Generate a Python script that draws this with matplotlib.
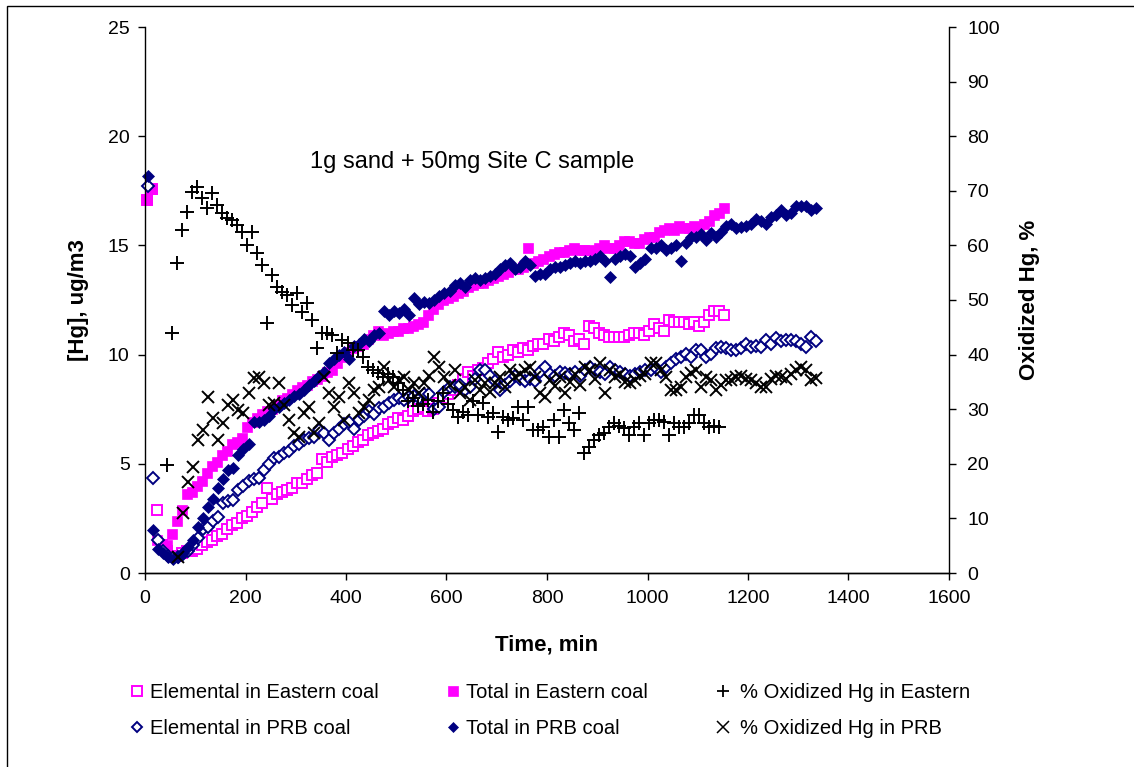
import numpy as np
import matplotlib
matplotlib.use("Agg")
import matplotlib.pyplot as plt
from matplotlib.lines import Line2D
from matplotlib.patches import Rectangle

plt.rcParams['font.family'] = ['Liberation Sans', 'DejaVu Sans']

# ---------------- data ----------------
# Eastern coal, sampled every 10 min starting at 3 min
east_t0, east_dt = 3, 10
total_east = [17.1, 17.6, 1.5, 1.2, 1.3, 1.8, 2.4, 2.9, 3.6, 3.7,
              4.0, 4.2, 4.6, 4.9, 5.1, 5.4, 5.6, 5.9, 6.0, 6.2,
              6.7, 6.9, 7.1, 7.3, 7.4, 7.5, 7.7, 7.9, 8.0, 8.2,
              8.4, 8.5, 8.6, 8.8, 8.9, 9.0, 9.2, 9.3, 9.6, 9.9,
              10.1, 10.3, 10.4, 10.5, 10.7, 10.9, 11.1, 10.9, 11.0, 11.1,
              11.1, 11.2, 11.2, 11.3, 11.4, 11.5, 11.8, 12.1, 12.3, 12.5,
              12.6, 12.7, 12.8, 12.9, 13.1, 13.2, 13.3, 13.3, 13.4, 13.5,
              13.6, 13.7, 13.8, 13.9, 13.9, 14.0, 14.9, 14.2, 14.3, 14.4,
              14.5, 14.6, 14.7, 14.7, 14.8, 14.9, 14.8, 14.8, 14.8, 14.7,
              14.9, 15.0, 14.9, 14.9, 15.0, 15.2, 15.2, 15.1, 15.1, 15.3,
              15.4, 15.4, 15.6, 15.7, 15.8, 15.7, 15.9, 15.8, 15.8, 15.9,
              15.8, 16.0, 16.1, 16.4, 16.5, 16.7]
elem_east = [17.1, 17.6, 2.9, 1.3, 1.0, 0.8, 0.8, 0.9, 1.0, 1.0,
             1.1, 1.3, 1.4, 1.5, 1.7, 1.8, 2.0, 2.2, 2.3, 2.5,
             2.6, 2.8, 3.0, 3.2, 3.9, 3.4, 3.6, 3.7, 3.8, 3.9,
             4.1, 4.1, 4.3, 4.5, 4.6, 5.2, 5.1, 5.3, 5.4, 5.5,
             5.7, 5.8, 6.0, 6.1, 6.3, 6.4, 6.5, 6.6, 6.8, 6.9,
             7.1, 7.0, 7.2, 7.4, 7.5, 7.6, 7.4, 7.5, 7.8, 8.0,
             8.2, 8.4, 8.6, 8.9, 9.2, 9.0, 9.3, 9.4, 9.6, 9.8,
             10.1, 9.9, 10.0, 10.2, 10.1, 10.3, 10.2, 10.4, 10.5, 10.5,
             10.7, 10.6, 10.8, 11.0, 10.9, 10.6, 10.7, 10.5, 11.3, 11.2,
             11.0, 10.9, 10.8, 10.8, 10.8, 10.8, 10.9, 11.0, 11.0, 10.9,
             11.1, 11.4, 11.2, 11.1, 11.6, 11.5, 11.5, 11.5, 11.4, 11.5,
             11.3, 11.5, 11.8, 12.0, 12.0, 11.8]
# % oxidized Hg, Eastern coal, every 10 min from 43 min
oxe_t0 = 43
ox_east = [19.8, 44.0, 56.8, 62.8, 66.1, 69.8, 70.7, 68.7, 66.8, 69.6,
           67.4, 66.0, 65.0, 64.6, 63.7, 62.5, 60.1, 62.5, 58.6, 56.4,
           45.8, 54.6, 52.4, 51.5, 50.9, 49.1, 51.3, 47.8, 49.5, 46.3,
           41.2, 44.0, 44.0, 43.6, 40.3, 42.7, 42.1, 40.8, 40.8, 39.6,
           37.7, 37.2, 36.6, 35.9, 36.5, 35.9, 34.8, 33.5, 31.5, 32.0,
           30.5, 31.0, 31.7, 29.5, 31.5, 33.0, 31.0, 29.9, 28.6, 29.5,
           28.9, 31.5, 29.0, 31.1, 28.6, 29.3, 25.8, 28.6, 28.0, 28.3,
           30.4, 28.0, 30.4, 26.2, 26.2, 26.7, 24.9, 28.0, 24.9, 29.9,
           27.4, 26.2, 29.3, 22.0, 23.1, 24.4, 25.3, 25.6, 26.7, 27.4,
           27.0, 26.5, 25.3, 26.7, 27.4, 25.3, 27.5, 28.0, 28.0, 27.6,
           25.3, 27.4, 26.7, 26.7, 27.4, 28.9, 28.9, 27.4, 26.7, 27.0,
           26.7]

# PRB coal, sampled every 10 min starting at 6 min
prb_t0, prb_dt = 6, 10
total_prb = [18.2, 1.95, 1.1, 0.9, 0.75, 0.65, 0.75, 0.9, 1.2, 1.5,
             2.1, 2.5, 3.0, 3.4, 3.9, 4.3, 4.7, 4.8, 5.4, 5.7,
             5.9, 6.9, 6.9, 7.0, 7.2, 7.5, 7.6, 7.8, 7.9, 8.1,
             8.2, 8.4, 8.6, 8.8, 9.0, 9.2, 9.6, 9.8, 10.0, 10.1,
             9.8, 10.4, 10.5, 10.7, 10.6, 10.9, 11.0, 12.0, 11.8, 12.0,
             11.9, 12.1, 11.8, 12.6, 12.3, 12.4, 12.35, 12.5, 12.7, 12.8,
             12.9, 13.2, 13.3, 13.1, 13.4, 13.5, 13.4, 13.5, 13.6, 13.7,
             13.9, 14.1, 14.2, 13.9, 14.0, 14.3, 14.1, 13.6, 13.7, 13.7,
             13.9, 14.0, 14.0, 14.1, 14.2, 14.3, 14.2, 14.3, 14.3, 14.4,
             14.5, 14.3, 13.55, 14.4, 14.5, 14.6, 14.5, 14.0, 14.2, 14.4,
             14.9, 14.9, 15.0, 14.8, 14.9, 15.0, 14.3, 15.1, 15.4, 15.4,
             15.5, 15.25, 15.55, 15.4, 15.6, 15.9, 16.0, 15.8, 15.85, 15.9,
             16.0, 16.2, 16.1, 16.0, 16.3, 16.4, 16.6, 16.4, 16.5, 16.8,
             16.8, 16.8, 16.6, 16.7]
elem_prb = [17.7, 4.35, 1.5, 1.0, 0.8, 0.7, 0.75, 0.85, 1.0, 1.3,
            1.6, 2.0, 2.1, 2.4, 2.55, 3.2, 3.3, 3.35, 3.8, 4.0,
            4.2, 4.3, 4.35, 4.7, 5.0, 5.25, 5.3, 5.5, 5.6, 5.8,
            5.9, 6.1, 6.2, 6.25, 6.55, 6.4, 6.1, 6.4, 6.6, 6.8,
            6.9, 6.6, 7.0, 7.2, 7.4, 7.3, 7.55, 7.6, 7.8, 7.9,
            8.0, 7.9, 8.05, 8.1, 8.0, 8.2, 8.2, 7.5, 7.6, 8.3,
            8.5, 8.5, 8.6, 8.4, 8.5, 8.9, 9.3, 9.3, 9.0, 8.8,
            8.4, 8.6, 8.8, 9.0, 8.9, 8.8, 8.9, 8.8, 9.2, 9.45,
            9.1, 9.0, 9.2, 9.15, 9.1, 9.2, 9.0, 9.3, 9.45, 9.3,
            9.2, 9.1, 9.45, 9.3, 9.2, 9.1, 9.0, 9.1, 9.2, 9.3,
            9.3, 9.4, 9.2, 9.45, 9.6, 9.8, 9.9, 10.05, 9.9, 10.2,
            10.2, 9.9, 10.05, 10.3, 10.35, 10.3, 10.2, 10.2, 10.3, 10.5,
            10.35, 10.4, 10.35, 10.65, 10.5, 10.75, 10.6, 10.65, 10.65, 10.6,
            10.5, 10.35, 10.8, 10.6]
# % oxidized Hg, PRB coal, every 10 min from 66 min
oxp_t0 = 66
ox_prb = [2.9, 11.0, 16.7, 19.4, 24.4, 26.2, 32.2, 28.4, 24.4, 27.5,
          30.8, 31.7, 29.9, 29.3, 33.0, 35.7, 35.9, 34.8, 30.8, 31.1,
          34.8, 30.8, 28.0, 25.6, 24.9, 29.3, 30.4, 25.6, 27.5, 35.9,
          33.0, 30.4, 32.2, 28.0, 34.8, 33.0, 29.3, 30.4, 31.7, 33.5,
          34.1, 37.7, 35.3, 34.1, 35.3, 35.9, 33.5, 34.8, 33.0, 34.8,
          36.0, 39.6, 37.7, 35.9, 34.5, 37.2, 33.0, 34.0, 31.7, 35.3,
          33.5, 34.8, 33.2, 34.8, 35.9, 34.0, 37.2, 35.9, 36.5, 37.2,
          37.7, 35.9, 33.0, 32.2, 35.3, 34.3, 35.9, 33.0, 35.0, 36.5,
          34.5, 37.7, 37.2, 35.5, 38.5, 33.0, 37.2, 35.9, 36.5, 35.0,
          34.8, 35.3, 36.0, 36.5, 38.5, 38.5, 37.2, 35.9, 33.5, 33.5,
          34.1, 35.9, 36.6, 37.2, 34.1, 35.9, 35.3, 33.5, 34.5, 35.3,
          35.3, 35.9, 36.0, 35.5, 35.3, 34.8, 34.1, 34.1, 35.5, 36.0,
          35.9, 35.5, 36.5, 37.2, 37.7, 37.2, 35.3, 35.7]

t_east = east_t0 + east_dt * np.arange(len(total_east))
t_oxe = oxe_t0 + east_dt * np.arange(len(ox_east))
t_prb = prb_t0 + prb_dt * np.arange(len(total_prb))
t_oxp = oxp_t0 + prb_dt * np.arange(len(ox_prb))

labels = ["Elemental in Eastern coal", "Total in Eastern coal",
          "% Oxidized Hg in Eastern", "Elemental in PRB coal",
          "Total in PRB coal", "% Oxidized Hg in PRB"]
annotation = "1g sand + 50mg Site C sample"

MAG = "#FF00FF"
NAVY = "#000080"

# ---------------- figure ----------------
W, H = 1134, 767
fig = plt.figure(figsize=(W / 100, H / 100), dpi=100)
ax = fig.add_axes([145 / W, 1 - 573 / H, (949 - 145) / W, (573 - 27) / H])
ax2 = ax.twinx()

kw = dict(linestyle='none', clip_on=False)
ax.plot(t_east, elem_east, marker='s', ms=7.5, mfc='white', mec=MAG, mew=1.4, **kw)
ax.plot(t_east, total_east, marker='s', ms=7.5, mfc=MAG, mec=MAG, mew=0.5, **kw)
ax.plot(t_prb, elem_prb, marker='D', ms=6.3, mfc='white', mec=NAVY, mew=1.4, **kw)
ax.plot(t_prb, total_prb, marker='D', ms=6.3, mfc=NAVY, mec=NAVY, mew=0.5, **kw)
ax2.plot(t_oxe, ox_east, marker='+', ms=10, mec='black', mew=1.4, **kw)
ax2.plot(t_oxp, ox_prb, marker='x', ms=9, mec='black', mew=1.4, **kw)

ax.set_xlim(0, 1600)
ax.set_ylim(0, 25)
ax2.set_ylim(0, 100)
ax.set_xticks(np.arange(0, 1601, 200))
ax.set_yticks(np.arange(0, 26, 5))
ax2.set_yticks(np.arange(0, 101, 10))

for a in (ax, ax2):
    a.spines['top'].set_visible(False)
    for s in a.spines.values():
        s.set_linewidth(1.0)
        s.set_color('black')
    a.tick_params(direction='out', length=5, width=1, labelsize=14, colors='black')
ax2.spines['left'].set_visible(False)
ax.spines['right'].set_visible(False)
ax.tick_params(axis='x', pad=7)
ax.tick_params(axis='y', pad=6)
ax2.tick_params(axis='y', pad=8)

ax.set_xlabel("Time, min", fontsize=16, fontweight='bold', labelpad=20)
ax.set_ylabel("[Hg], ug/m3", fontsize=16, fontweight='bold', labelpad=14)
ax2.set_ylabel("Oxidized Hg, %", fontsize=16, fontweight='bold', labelpad=14)

ax.text(328, 18.8, annotation, fontsize=17, va='center', ha='left')

# ---------------- legend (three columns) ----------------
def h(marker, ms, mfc, mec, mew):
    return Line2D([], [], linestyle='none', marker=marker, ms=ms, mfc=mfc, mec=mec, mew=mew)

cols = [
    ([h('s', 6.5, 'white', MAG, 1.4), h('D', 5.5, 'white', NAVY, 1.4)], [labels[0], labels[3]], 127, 0.12),
    ([h('s', 6.5, MAG, MAG, 0.5), h('D', 5.5, NAVY, NAVY, 0.5)], [labels[1], labels[4]], 443, 0.12),
    ([h('+', 9, 'black', 'black', 1.3), h('x', 8, 'black', 'black', 1.1)], [labels[2], labels[5]], 713, 0.35),
]
for handles, labs, x0, pad in cols:
    fig.legend(handles, labs, loc='upper left', bbox_to_anchor=(x0 / W, 1 - 683 / H),
               frameon=False, fontsize=14.5, handlelength=1.0, handletextpad=pad,
               borderpad=0, borderaxespad=0, labelspacing=0.85, numpoints=1)

# outer frame (left and top edges visible)
fig.add_artist(Rectangle((7 / W, -0.05), 1.2, 1.05 - 6 / H, transform=fig.transFigure,
                         fill=False, edgecolor='black', linewidth=1.0))

fig.savefig("out.png", dpi=100)
